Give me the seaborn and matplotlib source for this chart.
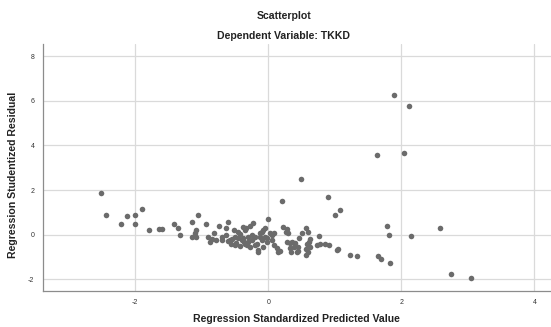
import numpy as np
import pandas as pd
import matplotlib
matplotlib.use("Agg")
import matplotlib.pyplot as plt
import seaborn as sns

# values
pred = [-2.52, -2.44, -2.22, -2.12, -2.00, -2.00, -1.89, -1.79, -1.64, -1.60,
        -1.42, -1.36, -1.32, -1.15, -1.06, -1.09, -1.14, -1.08, -1.10, -0.93,
        -0.91, -0.88, -0.85, -0.82, -0.78, -0.74, -0.69, -0.63, -0.61, -0.63,
        -0.58, -0.56, -0.52, -0.50, -0.48, -0.45, -0.50, -0.42, -0.38, -0.35,
        -0.40, -0.37, -0.42, -0.32, -0.30, -0.28, -0.23, -0.25, -0.30, -0.20,
        -0.15, -0.28, -0.12, -0.10, -0.05, 0.00, -0.02, 0.05, 0.15, -0.25,
        -0.20, -0.17, -0.15, -0.12, -0.10, -0.08, -0.05, -0.02, -0.08, 0.03,
        0.05, 0.49, 0.21, 0.90, 1.00, 1.08, 0.22, 0.28, 0.29, 0.57,
        0.60, 0.51, 0.76, 1.78, 1.82, 2.14, 2.58, 1.23, 1.33, 1.65,
        1.70, 1.83, 1.89, 2.11, 1.63, 2.04, 2.75, 3.05, 1.03, 1.05,
        0.92, 0.85, 0.78, 0.73, 0.63, 0.62, 0.58, 0.57, 0.56, 0.63,
        0.60, 0.46, 0.43, 0.34, 0.32, 0.38, 0.35, 0.28, 0.40, 0.45,
        0.44, 0.18, 0.13, 0.09, 0.08, 0.33, -0.45, -0.60, -0.70, -0.55,
        -0.35, -0.38, 0.27, -0.34]
resid = [1.85, 0.90, 0.50, 0.82, 0.88, 0.47, 1.14, 0.19, 0.27, 0.25,
         0.47, 0.32, -0.02, 0.57, 0.89, 0.22, -0.09, -0.12, 0.06, 0.48,
         -0.09, -0.34, -0.21, 0.07, -0.24, 0.38, -0.25, 0.28, 0.58, -0.02,
         -0.24, -0.42, 0.23, -0.09, -0.38, -0.17, -0.47, 0.05, 0.36, 0.20,
         -0.26, -0.33, -0.51, -0.46, -0.09, 0.39, 0.54, -0.24, -0.31, -0.46,
         -0.76, -0.55, -0.09, 0.13, 0.29, 0.70, -0.16, -0.01, -0.76, -0.01,
         -0.10, -0.42, -0.69, 0.06, -0.24, 0.21, -0.09, -0.31, -0.54, 0.06,
         -0.24, 2.51, 1.52, 1.67, 0.88, 1.09, 0.33, 0.27, 0.08, 0.28,
         0.11, 0.06, -0.07, 0.38, -0.01, -0.04, 0.30, -0.91, -0.95, -0.94,
         -1.07, -1.27, 6.27, 5.76, 3.58, 3.66, -1.76, -1.94, -0.69, -0.64,
         -0.46, -0.40, -0.42, -0.45, -0.21, -0.31, -0.42, -0.65, -0.91, -0.56,
         -0.76, -0.13, -0.79, -0.79, -0.61, -0.54, -0.31, -0.31, -0.36, -0.56,
         -0.74, -0.72, -0.60, -0.45, 0.09, -0.36, 0.10, -0.30, -0.10, -0.20,
         -0.40, -0.15, 0.13, 0.30]

x_ticks = [-2, 0, 2, 4]
y_ticks = [-2, 0, 2, 4, 6, 8]

df = pd.DataFrame({"pred": pred, "resid": resid})

sns.set_style("whitegrid")
plt.rcParams["font.family"] = ["Liberation Sans", "DejaVu Sans"]
plt.rcParams["axes.unicode_minus"] = False

fig = plt.figure(figsize=(5.51, 3.27), dpi=100)
ax = fig.add_axes([0.0775, 0.111, 0.9225, 0.7544])

sns.scatterplot(data=df, x="pred", y="resid", ax=ax, color="#6b6b6b",
                s=16, linewidth=0, zorder=3)

ax.set_xlim(-3.39, 4.25)
ax.set_ylim(-2.51, 8.54)
ax.set_xticks(x_ticks)
ax.set_yticks(y_ticks)
ax.grid(True, color="#dadada", linewidth=0.9)
for side in ["top", "right"]:
    ax.spines[side].set_visible(False)
for side in ["left", "bottom"]:
    ax.spines[side].set_color("#8c8c8c")
    ax.spines[side].set_linewidth(0.9)
ax.tick_params(axis="both", labelsize=5, colors="#333333", length=0, pad=6)

ax.set_xlabel("Regression Standardized Predicted Value", fontsize=7.6,
              fontweight="bold", color="#222222", labelpad=6)
ax.set_ylabel("Regression Studentized Residual", fontsize=7.6,
              fontweight="bold", color="#222222")
ax.yaxis.set_label_coords(-0.048, 0.47)

fig.text(0.515, 0.950, "Scatterplot", ha="center", va="center",
         fontsize=7.6, fontweight="bold", color="#222222")
fig.text(0.515, 0.890, "Dependent Variable: TKKD", ha="center", va="center",
         fontsize=7.6, fontweight="bold", color="#222222")

fig.savefig("out.png", dpi=100)
